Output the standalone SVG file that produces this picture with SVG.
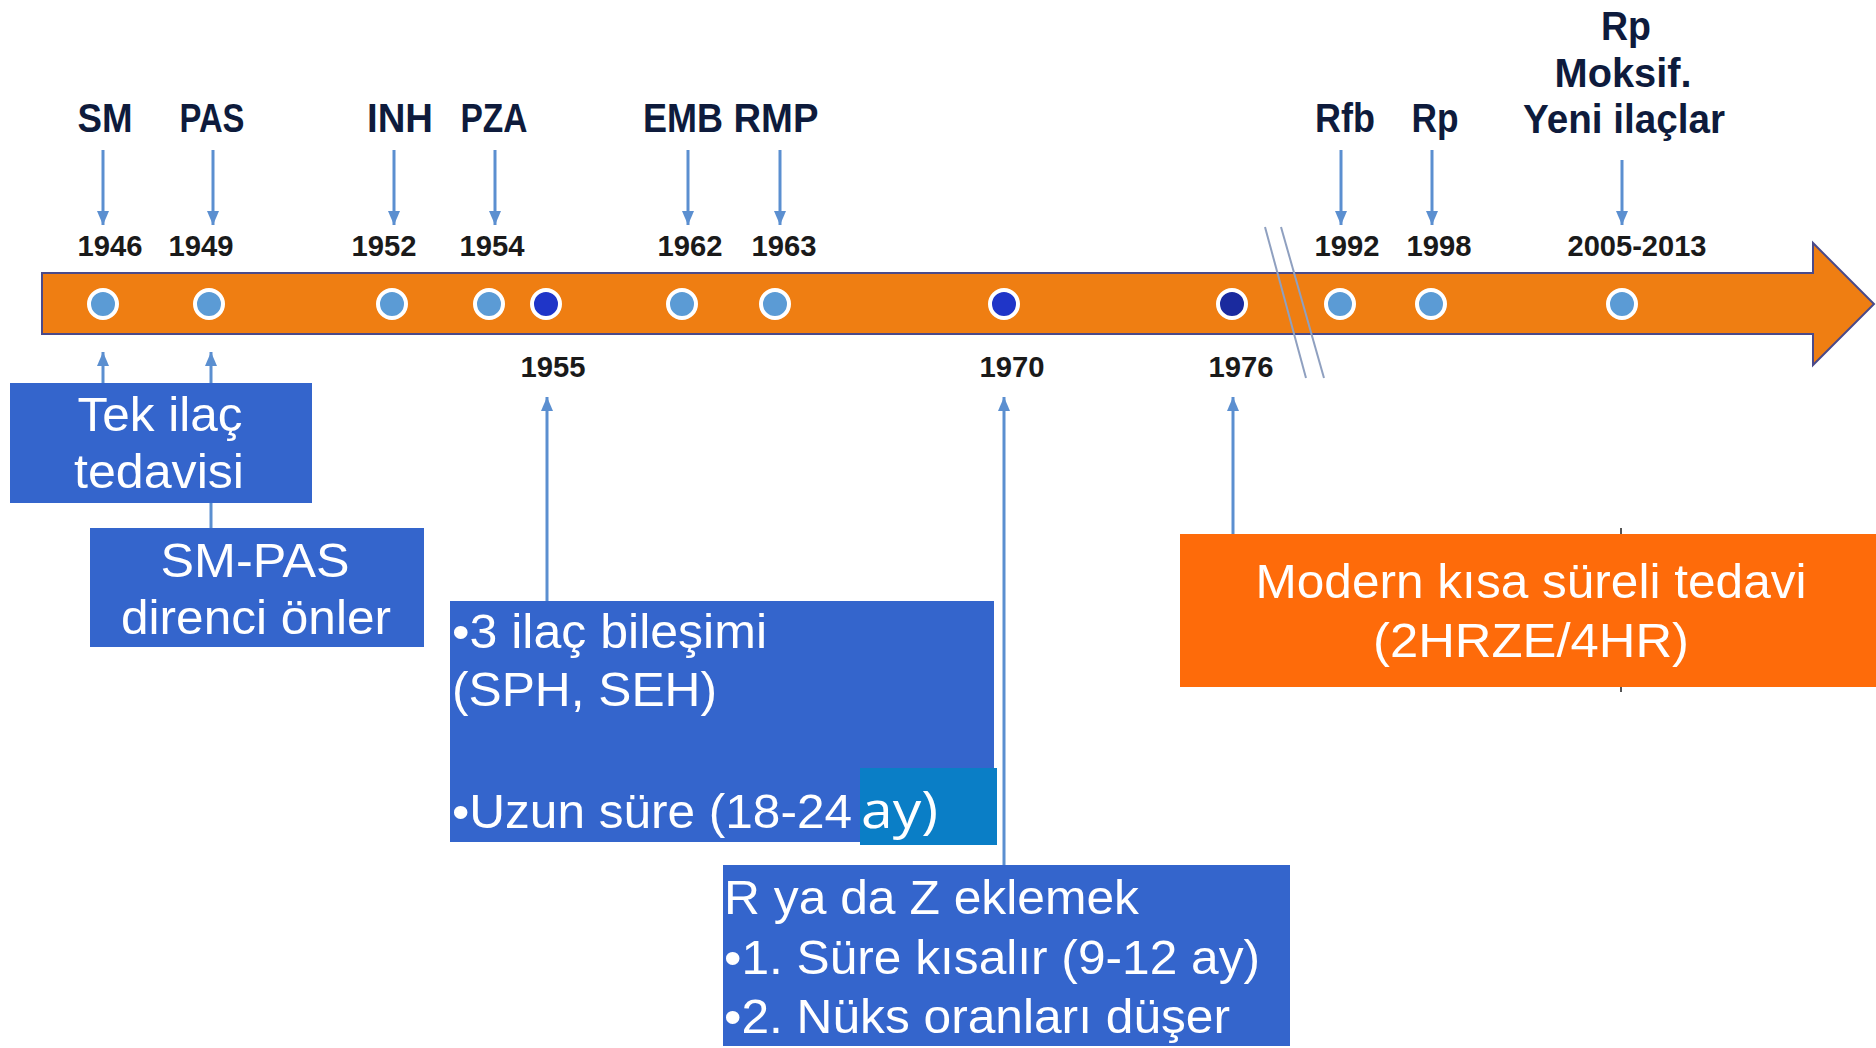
<svg xmlns="http://www.w3.org/2000/svg" width="1876" height="1048" viewBox="0 0 1876 1048">
<defs>
<marker id="ah" viewBox="0 0 14 12" refX="14" refY="6" markerWidth="14" markerHeight="12" markerUnits="userSpaceOnUse" orient="auto"><path d="M0,0 L14,6 L0,12 z" fill="#5B8FD0"/></marker>
</defs>
<style>
.lbl{font-family:"Liberation Sans",Arial,sans-serif;font-weight:bold;font-size:41px;fill:#0E1B3C;text-anchor:middle}
.yr{font-family:"Liberation Sans",Arial,sans-serif;font-weight:bold;font-size:29px;fill:#1A1A1A;text-anchor:middle}
.bt{font-family:"Liberation Sans",Arial,sans-serif;font-size:48px;fill:#FFFFFF}
.c{text-anchor:middle}
.con{stroke:#5B8FD0;stroke-width:3;fill:none}
.dot{fill:#5B9BD5;stroke:#FFFFFF;stroke-width:4}
.dk{fill:#1F35C8;stroke:#FFFFFF;stroke-width:4}
.blue{fill:#3465CC}
</style>
<rect width="1876" height="1048" fill="#FFFFFF"/>

<g id="timeline">
<path d="M42,273 L1813,273 L1813,243 L1874,304 L1813,365 L1813,334 L42,334 Z" fill="#EF7E12" stroke="#4A4A8A" stroke-width="2"/>
</g>

<g id="break">
<line x1="1265" y1="227" x2="1306" y2="378" stroke="#8FA0C0" stroke-width="2"/>
<line x1="1281" y1="227" x2="1324" y2="378" stroke="#8FA0C0" stroke-width="2"/>
</g>

<g id="connectors">
<line class="con" x1="103" y1="150" x2="103" y2="225" marker-end="url(#ah)"/>
<line class="con" x1="213" y1="150" x2="213" y2="225" marker-end="url(#ah)"/>
<line class="con" x1="394" y1="150" x2="394" y2="225" marker-end="url(#ah)"/>
<line class="con" x1="495" y1="150" x2="495" y2="225" marker-end="url(#ah)"/>
<line class="con" x1="688" y1="150" x2="688" y2="225" marker-end="url(#ah)"/>
<line class="con" x1="780" y1="150" x2="780" y2="225" marker-end="url(#ah)"/>
<line class="con" x1="1341" y1="150" x2="1341" y2="225" marker-end="url(#ah)"/>
<line class="con" x1="1432" y1="150" x2="1432" y2="225" marker-end="url(#ah)"/>
<line class="con" x1="1622" y1="160" x2="1622" y2="225" marker-end="url(#ah)"/>
<line class="con" x1="103" y1="383" x2="103" y2="352" marker-end="url(#ah)"/>
<line class="con" x1="211" y1="383" x2="211" y2="352" marker-end="url(#ah)"/>
<line class="con" x1="211" y1="503" x2="211" y2="528"/>
<line class="con" x1="547" y1="601" x2="547" y2="397" marker-end="url(#ah)"/>
<line class="con" x1="1004" y1="865" x2="1004" y2="397" marker-end="url(#ah)"/>
<line class="con" x1="1233" y1="534" x2="1233" y2="397" marker-end="url(#ah)"/>
<line x1="1621" y1="528" x2="1621" y2="692" stroke="#555555" stroke-width="2"/>
</g>

<g id="dots">
<circle class="dot" cx="103" cy="304" r="14"/>
<circle class="dot" cx="209" cy="304" r="14"/>
<circle class="dot" cx="392" cy="304" r="14"/>
<circle class="dot" cx="489" cy="304" r="14"/>
<circle class="dk" cx="546" cy="304" r="14"/>
<circle class="dot" cx="682" cy="304" r="14"/>
<circle class="dot" cx="775" cy="304" r="14"/>
<circle class="dk" cx="1004" cy="304" r="14"/>
<circle class="dk" cx="1232" cy="304" r="14" fill="#1A2A9E" style="fill:#1A2A9E"/>
<circle class="dot" cx="1340" cy="304" r="14"/>
<circle class="dot" cx="1431" cy="304" r="14"/>
<circle class="dot" cx="1622" cy="304" r="14"/>
</g>

<g id="drug-labels">
<text class="lbl" x="105" y="132" textLength="55" lengthAdjust="spacingAndGlyphs">SM</text>
<text class="lbl" x="212" y="132" textLength="65" lengthAdjust="spacingAndGlyphs">PAS</text>
<text class="lbl" x="400" y="132" textLength="66" lengthAdjust="spacingAndGlyphs">INH</text>
<text class="lbl" x="494" y="132" textLength="67" lengthAdjust="spacingAndGlyphs">PZA</text>
<text class="lbl" x="683" y="132" textLength="80" lengthAdjust="spacingAndGlyphs">EMB</text>
<text class="lbl" x="776" y="132" textLength="85" lengthAdjust="spacingAndGlyphs">RMP</text>
<text class="lbl" x="1345" y="132" textLength="60" lengthAdjust="spacingAndGlyphs">Rfb</text>
<text class="lbl" x="1435" y="132" textLength="47" lengthAdjust="spacingAndGlyphs">Rp</text>
<text class="lbl" x="1626" y="40" textLength="50" lengthAdjust="spacingAndGlyphs">Rp</text>
<text class="lbl" x="1623" y="87" textLength="137" lengthAdjust="spacingAndGlyphs">Moksif.</text>
<text class="lbl" x="1624" y="133" textLength="202" lengthAdjust="spacingAndGlyphs">Yeni ilaçlar</text>
</g>

<g id="years">
<text class="yr" x="110" y="256" textLength="65" lengthAdjust="spacingAndGlyphs">1946</text>
<text class="yr" x="201" y="256" textLength="65" lengthAdjust="spacingAndGlyphs">1949</text>
<text class="yr" x="384" y="256" textLength="65" lengthAdjust="spacingAndGlyphs">1952</text>
<text class="yr" x="492" y="256" textLength="65" lengthAdjust="spacingAndGlyphs">1954</text>
<text class="yr" x="690" y="256" textLength="65" lengthAdjust="spacingAndGlyphs">1962</text>
<text class="yr" x="784" y="256" textLength="65" lengthAdjust="spacingAndGlyphs">1963</text>
<text class="yr" x="1347" y="256" textLength="65" lengthAdjust="spacingAndGlyphs">1992</text>
<text class="yr" x="1439" y="256" textLength="65" lengthAdjust="spacingAndGlyphs">1998</text>
<text class="yr" x="1637" y="256" textLength="139" lengthAdjust="spacingAndGlyphs">2005-2013</text>
<text class="yr" x="553" y="377" textLength="65" lengthAdjust="spacingAndGlyphs">1955</text>
<text class="yr" x="1012" y="377" textLength="65" lengthAdjust="spacingAndGlyphs">1970</text>
<text class="yr" x="1241" y="377" textLength="65" lengthAdjust="spacingAndGlyphs">1976</text>
</g>

<g id="box-tek">
<rect class="blue" x="10" y="383" width="302" height="120"/>
<text class="bt c" x="160" y="431" textLength="165" lengthAdjust="spacingAndGlyphs">Tek ilaç</text>
<text class="bt c" x="159" y="488" textLength="170" lengthAdjust="spacingAndGlyphs">tedavisi</text>
</g>

<g id="box-smpas">
<rect class="blue" x="90" y="528" width="334" height="119"/>
<text class="bt c" x="255" y="577" textLength="189" lengthAdjust="spacingAndGlyphs">SM-PAS</text>
<text class="bt c" x="256" y="634" textLength="270" lengthAdjust="spacingAndGlyphs">direnci önler</text>
</g>

<g id="box-3ilac">
<rect class="blue" x="450" y="601" width="544" height="241"/>
<text class="bt" x="452" y="648" textLength="315" lengthAdjust="spacingAndGlyphs">•3 ilaç bileşimi</text>
<text class="bt" x="452" y="706" textLength="265" lengthAdjust="spacingAndGlyphs">(SPH, SEH)</text>
<text class="bt" x="452" y="828" textLength="400" lengthAdjust="spacingAndGlyphs">•Uzun süre (18-24 </text>
<rect x="860" y="768" width="137" height="77" fill="#0A7EC6"/>
<text x="861" y="828" font-family="'Open Sans','Liberation Sans',sans-serif" font-size="52" fill="#FFFFFF" textLength="77" lengthAdjust="spacingAndGlyphs">ay)</text>
</g>

<g id="box-rz">
<rect class="blue" x="723" y="865" width="567" height="181"/>
<text class="bt" x="724" y="914" textLength="415" lengthAdjust="spacingAndGlyphs">R ya da Z eklemek</text>
<text class="bt" x="724" y="974" textLength="536" lengthAdjust="spacingAndGlyphs">•1. Süre kısalır (9-12 ay)</text>
<text class="bt" x="724" y="1033" textLength="506" lengthAdjust="spacingAndGlyphs">•2. Nüks oranları düşer</text>
</g>

<g id="box-modern">
<rect x="1180" y="534" width="696" height="153" fill="#FE6B0A"/>
<text class="bt c" x="1531" y="598" textLength="551" lengthAdjust="spacingAndGlyphs">Modern kısa süreli tedavi</text>
<text class="bt c" x="1531" y="657" textLength="316" lengthAdjust="spacingAndGlyphs">(2HRZE/4HR)</text>
</g>
</svg>
